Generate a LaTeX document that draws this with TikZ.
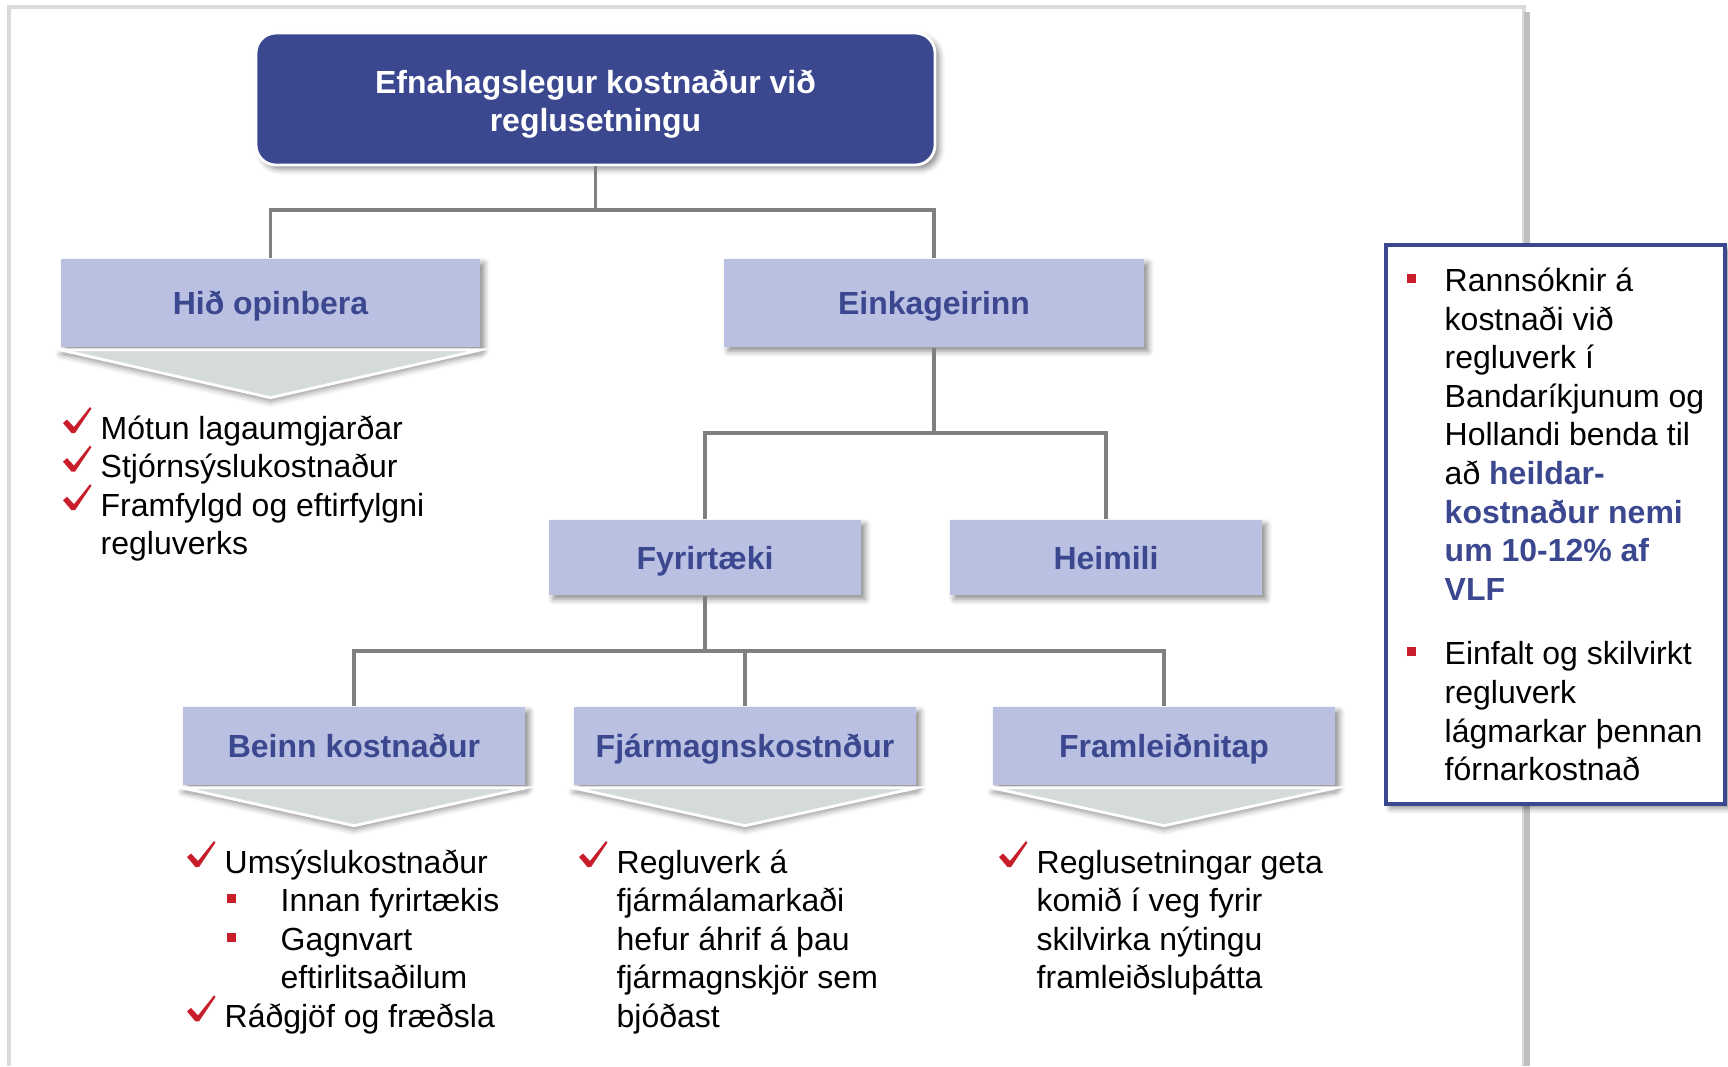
\documentclass[tikz,border=0pt]{standalone}
\usepackage{fontspec}
\setmainfont{Liberation Sans}
\usetikzlibrary{shadows.blur,calc}

\definecolor{navy}{HTML}{3B4890}
\definecolor{lilac}{HTML}{B9C0E1}
\definecolor{chevgray}{HTML}{D5DBDB}
\definecolor{linegray}{HTML}{7F7F7F}
\definecolor{tickred}{HTML}{C81E2B}
\definecolor{framegray}{HTML}{DADADA}

\newcommand\sqbul{\textcolor{tickred}{\rule[2.4pt]{2.6pt}{2.6pt}}}

\tikzset{
  conn/.style={draw=linegray, line width=0.9pt},
  softshadow/.style={blur shadow={shadow xshift=1.2pt, shadow yshift=-1.2pt,
    shadow blur radius=1.6pt, shadow opacity=45}},
  secbox/.style={fill=lilac, font=\bfseries, text=navy, inner sep=0pt,
    text height=6.6pt, text depth=0pt, softshadow},
  chev/.style={fill=chevgray, draw=white, line width=0.8pt,
    blur shadow={shadow xshift=0pt, shadow yshift=-1.2pt, shadow blur radius=1.6pt, shadow opacity=40}},
  lst/.style={anchor=base west, inner sep=0pt},
  chkmark/.pic={\fill[tickred] (0,-16) -- (4,-19.5) -- (11,-12) -- (27,-32)
    -- (28.5,-30.5) -- (12,-6) -- (8.5,-6) -- cycle;}
}

\begin{document}
\fontsize{9.1}{10.98}\selectfont
\begin{tikzpicture}[x=0.1mm, y=-0.1mm]
  \useasboundingbox (0,0) rectangle (1728,1066);
  \draw[framegray, line width=1.2pt] (9,1066) |- (1524,7) -- (1524,1066);
  \draw[black!25, line width=1.6pt] (1527,12) -- (1527,1066);

  \node[fill=navy, draw=white, line width=0.8pt, rounded corners=2mm,
    minimum width=67.9mm, minimum height=13.2mm, text=white, font=\bfseries, align=center,
    softshadow] (title) at (595.5,99) {\rule{0pt}{9.5pt}Efnahagslegur kostnaður við\\reglusetningu};

  \begin{scope}[every node/.style={secbox}]
    \node[minimum width=41.9mm, minimum height=8.8mm] (hid) at (270.5,303) {Hið opinbera};
    \node[minimum width=42mm, minimum height=8.8mm] (eink) at (934,303) {Einkageirinn};
    \node[minimum width=31.2mm, minimum height=7.5mm] (fyr) at (705,557.5) {Fyrirtæki};
    \node[minimum width=31.2mm, minimum height=7.5mm] (heim) at (1106,557.5) {Heimili};
    \node[minimum width=34.2mm, minimum height=7.8mm] (beinn) at (354,746) {Beinn kostnaður};
    \node[minimum width=34.2mm, minimum height=7.8mm] (fjarm) at (745,746) {Fjármagnskostnður};
    \node[minimum width=34.2mm, minimum height=7.8mm] (framl) at (1164,746) {Framleiðnitap};
  \end{scope}

  \coordinate (bus1) at (595.5,210);
  \coordinate (bus2) at (934,433);
  \coordinate (bus3) at (705,651);
  \begin{scope}[every path/.style={conn}]
    \draw (title) -- (bus1);
    \draw (hid) |- (bus1) -| (eink);
    \draw (eink) -- (bus2);
    \draw (fyr) |- (bus2) -| (heim);
    \draw (fyr) -- (bus3);
    \draw (beinn) |- (bus3) -| (framl);
    \draw (fjarm) -- (fjarm |- bus3);
  \end{scope}

  \foreach \b/\d in {hid/50,beinn/40,fjarm/40,framl/40}
    \path[chev] ([yshift=-0.6pt]\b.south west) -- ([yshift=-0.6pt]\b.south east)
      -- ($(\b.south)+(0,\d)$) -- cycle;

  \node[lst] (pubtxt) at (63,439) {\begin{tabular}[t]{@{}p{3.7mm}@{}l@{}}
    & Mótun lagaumgjarðar\\
    & Stjórnsýslukostnaður\\
    & Framfylgd og eftirfylgni\\
    & regluverks
  \end{tabular}};
  \foreach \r in {0,1,2}
    \pic at ($(pubtxt.base west)+(0,\r*38.6)$) {chkmark};

  \node[lst] (beinntxt) at (187,873) {\begin{tabular}[t]{@{}p{3.7mm}@{}l@{}}
    & Umsýslukostnaður\\
    & \hspace{0.2mm}\makebox[5.4mm][l]{\sqbul}Innan fyrirtækis\\
    & \hspace{0.2mm}\makebox[5.4mm][l]{\sqbul}Gagnvart\\
    & \hspace{5.6mm}eftirlitsaðilum\\
    & Ráðgjöf og fræðsla
  \end{tabular}};
  \foreach \r in {0,4}
    \pic at ($(beinntxt.base west)+(0,\r*38.6)$) {chkmark};

  \node[lst] (fjarmtxt) at (579,873) {\begin{tabular}[t]{@{}p{3.7mm}@{}l@{}}
    & Regluverk á\\
    & fjármálamarkaði\\
    & hefur áhrif á þau\\
    & fjármagnskjör sem\\
    & bjóðast
  \end{tabular}};
  \pic at (fjarmtxt.base west) {chkmark};

  \node[lst] (framltxt) at (999,873) {\begin{tabular}[t]{@{}p{3.7mm}@{}l@{}}
    & Reglusetningar geta\\
    & komið í veg fyrir\\
    & skilvirka nýtingu\\
    & framleiðsluþátta
  \end{tabular}};
  \pic at (framltxt.base west) {chkmark};

  \node[draw=navy, fill=white, line width=0.9pt, minimum width=33.9mm, minimum height=55.9mm,
    softshadow] (note) at (1555.5,524.5) {};
  \node[lst] (notetxt) at (1406,291.5) {\begin{tabular}[t]{@{}p{3.8mm}@{}l@{}}
    \sqbul & Rannsóknir á\\
           & kostnaði við\\
           & regluverk í\\
           & Bandaríkjunum og\\
           & Hollandi benda til\\
           & að {\bfseries\color{navy}heildar-}\\
           & {\bfseries\color{navy}kostnaður nemi}\\
           & {\bfseries\color{navy}um 10-12\% af}\\
           & {\bfseries\color{navy}VLF}\\[2.6mm]
    \sqbul & Einfalt og skilvirkt\\
           & regluverk\\
           & lágmarkar þennan\\
           & fórnarkostnað
  \end{tabular}};
\end{tikzpicture}
\end{document}
